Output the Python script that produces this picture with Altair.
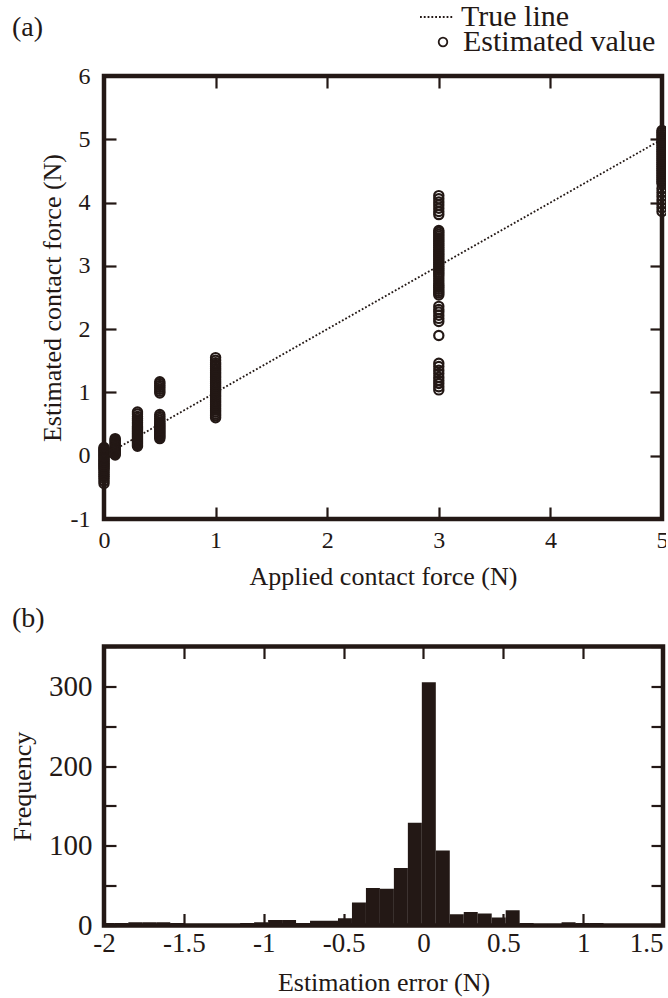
import altair as alt
import pandas as pd

INK = "#231815"
FONT = "Liberation Serif"

# ---------------- (a) scatter data ----------------
applied_force_levels = [0, 0.1, 0.3, 0.5, 1, 3, 5]
estimated_at_0 = [0.13, 0.11, 0.09, 0.07, 0.05, 0.03, 0.01, -0.01, -0.03, -0.05,
                  -0.07, -0.09, -0.11, -0.13, -0.15, -0.17, -0.19, -0.21, -0.24,
                  -0.27, -0.30, -0.33, -0.36, -0.40, -0.44]
estimated_at_0_1 = [0.27, 0.25, 0.23, 0.21, 0.19, 0.17, 0.15, 0.13, 0.11, 0.09,
                    0.07, 0.05, 0.03, 0.01]
estimated_at_0_3 = [0.69, 0.66, 0.62, 0.59, 0.56, 0.53, 0.50, 0.47, 0.45, 0.43,
                    0.41, 0.39, 0.37, 0.35, 0.33, 0.31, 0.29, 0.27, 0.25, 0.23,
                    0.21, 0.19, 0.17, 0.15]
estimated_at_0_5 = [1.17, 1.14, 1.11, 1.08, 1.05, 1.02, 0.99, 0.65, 0.62, 0.59,
                    0.56, 0.53, 0.51, 0.49, 0.47, 0.45, 0.43, 0.41, 0.39, 0.37,
                    0.35, 0.33, 0.31, 0.29, 0.27]
estimated_at_1 = [1.55, 1.51, 1.47, 1.44, 1.41, 1.38, 1.35, 1.32, 1.29, 1.26,
                  1.23, 1.20, 1.17, 1.14, 1.11, 1.08, 1.05, 1.02, 0.99, 0.96,
                  0.93, 0.90, 0.87, 0.84, 0.81, 0.78, 0.75, 0.72, 0.69, 0.66,
                  0.63, 0.60]
estimated_at_3 = [4.11, 4.06, 4.01, 3.96, 3.91, 3.86, 3.81, 3.56, 3.53, 3.50,
                  3.47, 3.44, 3.41, 3.38, 3.35, 3.32, 3.29, 3.26, 3.23, 3.20,
                  3.17, 3.14, 3.11, 3.08, 3.05, 3.02, 2.99, 2.96, 2.93, 2.90,
                  2.87, 2.84, 2.80, 2.76, 2.72, 2.69, 2.66, 2.63, 2.60, 2.57,
                  2.54, 2.36, 2.31, 2.27, 2.22, 2.17, 2.12, 1.90, 1.46, 1.41,
                  1.35, 1.30, 1.24, 1.19, 1.14, 1.09, 1.04]
estimated_at_5 = [5.14, 5.11, 5.08, 5.05, 5.02, 4.99, 4.96, 4.93, 4.90, 4.87,
                  4.84, 4.81, 4.78, 4.75, 4.72, 4.69, 4.66, 4.63, 4.60, 4.57,
                  4.54, 4.51, 4.48, 4.45, 4.42, 4.39, 4.36, 4.33, 4.30, 4.22,
                  4.16, 4.10, 4.04, 3.98, 3.92, 3.86]
estimated_by_level = [estimated_at_0, estimated_at_0_1, estimated_at_0_3,
                      estimated_at_0_5, estimated_at_1, estimated_at_3, estimated_at_5]

true_line_x = [0, 5]
true_line_y = [0, 5]

x_ticks_a = [0, 1, 2, 3, 4, 5]
y_ticks_a = [-1, 0, 1, 2, 3, 4, 5, 6]

# ---------------- (b) histogram data ----------------
error_counts = [3, 3, 4, 4, 4, 3, 1, 1, 1, 2,
                3, 4, 7, 7, 3, 6, 6, 9, 29, 47,
                46, 72, 129, 305, 94, 14, 17, 15, 10, 19,
                3, 2, 2, 4, 3, 3, 0, 0, 0, 0]
error_bin_start = -2.0225
error_bin_width = 0.0875

x_ticks_b = [-2, -1.5, -1, -0.5, 0, 0.5, 1, 1.5]
y_ticks_b = [0, 50, 100, 150, 200, 250, 300, 350]

# ---------------- tables ----------------
df_pts = pd.DataFrame(
    [{"applied": lvl, "estimated": v, "series": "Estimated value"}
     for lvl, vals in zip(applied_force_levels, estimated_by_level) for v in vals]
)
df_true = pd.DataFrame({"x": true_line_x, "y": true_line_y, "series": ["True line"] * 2})
df_hist = pd.DataFrame({
    "left": [error_bin_start + i * error_bin_width for i in range(len(error_counts))],
    "right": [error_bin_start + (i + 1) * error_bin_width for i in range(len(error_counts))],
    "count": error_counts,
})

TICK = 12
FRAME = alt.ViewBackground(stroke=INK, strokeWidth=4.5, fill="white")


def axis(orient, values, label_size=24, labels=True, title=None, title_size=26,
         title_pad=8, label_pad=10, label_expr="toString(datum.value)", label_align=None):
    kw = dict(orient=orient, values=values, offset=-TICK, tickSize=TICK, tickWidth=2.2,
              tickColor=INK, domain=False, grid=False, labels=labels, ticks=True,
              minExtent=0)
    if labels:
        kw.update(labelFont=FONT, labelFontSize=label_size, labelColor=INK,
                  labelPadding=label_pad, labelExpr=label_expr, labelFlush=False,
                  labelOverlap=False)
        if label_align is not None:
            kw.update(labelAlign=label_align)
    if title:
        kw.update(title=title, titleFont=FONT, titleFontSize=title_size,
                  titleFontWeight="normal", titleColor=INK, titlePadding=title_pad)
    else:
        kw.update(title=None)
    return alt.Axis(**kw)


# ---------------- panel (a) ----------------
scale_xa = alt.Scale(domain=[0, 5], nice=False, zero=False)
scale_ya = alt.Scale(domain=[-1, 6], nice=False, zero=False)

ax_a_bottom = axis("bottom", x_ticks_a, label_size=24, title="Applied contact force (N)",
                   title_size=26, title_pad=10.5, label_pad=9.5)
ax_a_left = axis("left", y_ticks_a, label_size=24, title="Estimated contact force (N)",
                 title_size=26, title_pad=5, label_pad=14)

true_line = alt.Chart(df_true).mark_line(color=INK, strokeWidth=1.8).encode(
    x=alt.X("x:Q", scale=scale_xa, axis=ax_a_bottom),
    y=alt.Y("y:Q", scale=scale_ya, axis=ax_a_left),
    strokeDash=alt.StrokeDash(
        "series:N",
        scale=alt.Scale(domain=["True line"], range=[[1.8, 2.0]]),
        legend=alt.Legend(orient="none", legendX=315, legendY=-76.5, title=None,
                          symbolType="stroke", symbolSize=1089, symbolStrokeWidth=1.8,
                          symbolStrokeColor=INK, labelFont=FONT, labelFontSize=30,
                          labelColor=INK, labelOffset=7, labelLimit=400, padding=0),
    ),
)

points = alt.Chart(df_pts).mark_point(
    filled=False, size=85, strokeWidth=2.2, color=INK, opacity=1, clip=False
).encode(
    x=alt.X("applied:Q", scale=scale_xa, axis=ax_a_bottom),
    y=alt.Y("estimated:Q", scale=scale_ya, axis=ax_a_left),
    shape=alt.Shape(
        "series:N",
        scale=alt.Scale(domain=["Estimated value"], range=["circle"]),
        legend=alt.Legend(orient="none", legendX=324, legendY=-49, title=None,
                          symbolSize=74, symbolStrokeWidth=1.8, symbolStrokeColor=INK,
                          labelFont=FONT, labelFontSize=30, labelColor=INK,
                          labelOffset=5, labelLimit=400, padding=0),
    ),
)

mirror_a = alt.Chart(df_true).mark_line(opacity=0).encode(
    x=alt.X("x:Q", scale=scale_xa, axis=axis("top", x_ticks_a, labels=False)),
    y=alt.Y("y:Q", scale=scale_ya, axis=axis("right", y_ticks_a, labels=False)),
)

panel_a = alt.layer(alt.layer(true_line, points), mirror_a).resolve_axis(
    x="independent", y="independent"
).properties(
    width=558, height=443, view=FRAME,
    title=alt.TitleParams("(a)", anchor="start", frame="group", dx=-92, offset=22,
                          font=FONT, fontSize=28, fontWeight="normal", color=INK),
)

# ---------------- panel (b) ----------------
scale_xb = alt.Scale(domain=[-2, 1.5], nice=False, zero=False)
scale_yb = alt.Scale(domain=[0, 350], nice=False, zero=False)

ax_b_bottom = axis("bottom", x_ticks_b, label_size=27, title="Estimation error (N)",
                   title_size=26, title_pad=13, label_pad=5,
                   label_align={"condition": {"test": "datum.value >= 1.5", "value": "right"},
                                "value": "center"})
ax_b_left = axis("left", y_ticks_b, label_size=29, title="Frequency", title_size=26,
                 title_pad=13, label_pad=12,
                 label_expr="datum.value % 100 == 0 && datum.value < 350 ? toString(datum.value) : ''")

bars = alt.Chart(df_hist).mark_rect(color=INK, clip=True).encode(
    x=alt.X("left:Q", scale=scale_xb, axis=ax_b_bottom),
    x2="right:Q",
    y=alt.Y("count:Q", scale=scale_yb, axis=ax_b_left),
    y2=alt.datum(0),
)

mirror_b = alt.Chart(df_hist).mark_rect(opacity=0).encode(
    x=alt.X("left:Q", scale=scale_xb, axis=axis("top", x_ticks_b, labels=False)),
    y=alt.Y("count:Q", scale=scale_yb, axis=axis("right", y_ticks_b, labels=False)),
)

panel_b = alt.layer(bars, mirror_b).resolve_axis(
    x="independent", y="independent"
).properties(
    width=559, height=279, view=FRAME,
    title=alt.TitleParams("(b)", anchor="start", frame="group", dx=-92, offset=-0.5,
                          font=FONT, fontSize=28, fontWeight="normal", color=INK),
)

chart = alt.vconcat(panel_a, panel_b, spacing=10.5).configure(
    background="white", padding={"left": 7, "top": -1, "right": -8, "bottom": 0}
).configure_view(
    stroke=INK, strokeWidth=4.5
)

chart.save("out.html", embed_options={"renderer": "svg", "actions": False})
